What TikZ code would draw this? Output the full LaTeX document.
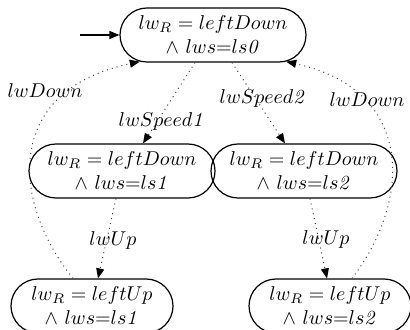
\documentclass[tikz,border=0pt]{standalone}
\usepackage{amsmath,amssymb}
\usepackage{tikz}
\usetikzlibrary{shapes.misc,arrows.meta}

\tikzset{
  state/.style={rounded rectangle, draw, line width=0.6pt, align=center,
    minimum width=95pt, minimum height=27pt, inner sep=1pt},
  trans/.style={dotted, line width=0.5pt, draw=black!75,
    -{Triangle[length=5pt,width=4pt,black]}},
  lbl/.style={inner sep=1pt, text=black}
}

\begin{document}
\begin{tikzpicture}[x=0.5pt, y=-0.5pt]
			% Рамка рисунка
			\useasboundingbox (0,0) rectangle (410,330);
			
			% Состояния
			\node[state] (s0) at (213,35) {$lw_R = leftDown$\\$\wedge\ lws{=}ls\mathit{0}$};
			\node[state] (d1) at (122,171) {$lw_R = leftDown$\\$\wedge\ lws{=}ls\mathit{1}$};
			\node[state] (d2) at (304,171) {$lw_R = leftDown$\\$\wedge\ lws{=}ls\mathit{2}$};
			\node[state, minimum width=83pt] (u1) at (92,306) {$lw_R = leftUp$\\$\wedge\ lws{=}ls\mathit{1}$};
			\node[state, minimum width=83pt] (u2) at (330,306) {$lw_R = leftUp$\\$\wedge\ lws{=}ls\mathit{2}$};
			
			% Начальная стрелка
			\coordinate (init) at (80,35);
			\draw[-{Triangle[length=5pt,width=4pt]}, line width=0.6pt] (init) -- (s0.west);
			
			% Переходы вниз
			\draw[trans] ([xshift=-9pt]s0.south) -- ([xshift=10.5pt]d1.north);
			\draw[trans] ([xshift=9.5pt]s0.south) -- ([xshift=-9.5pt]d2.north);
			\draw[trans] ([xshift=-3pt]d1.south) -- ([xshift=3pt]u1.north);
			\draw[trans] ([xshift=3pt]d2.south) -- ([xshift=-1.5pt]u2.north);
			
			% Переходы обратно вверх
			\draw[trans] ([xshift=-9.5pt]u1.north) .. controls (10,200) and (5,90) .. (s0.200);
			\draw[trans] ([xshift=11pt]u2.north) .. controls (412,200) and (415,90) .. (s0.-20);
			
			% Подписи переходов
			\node[lbl] (ls1) at (162,122) {$lwSpeed\mathit{1}$};
			\node[lbl] (ls2) at (263,99) {$lwSpeed\mathit{2}$};
			\node[lbl] (lu1) at (113,240) {$lwUp$};
			\node[lbl] (lu2) at (326,239) {$lwUp$};
			\node[lbl] (ldl) at (45,91) {$lwDown$};
			\node[lbl] (ldr) at (367,100) {$lwDown$};
		\end{tikzpicture}
\end{document}
